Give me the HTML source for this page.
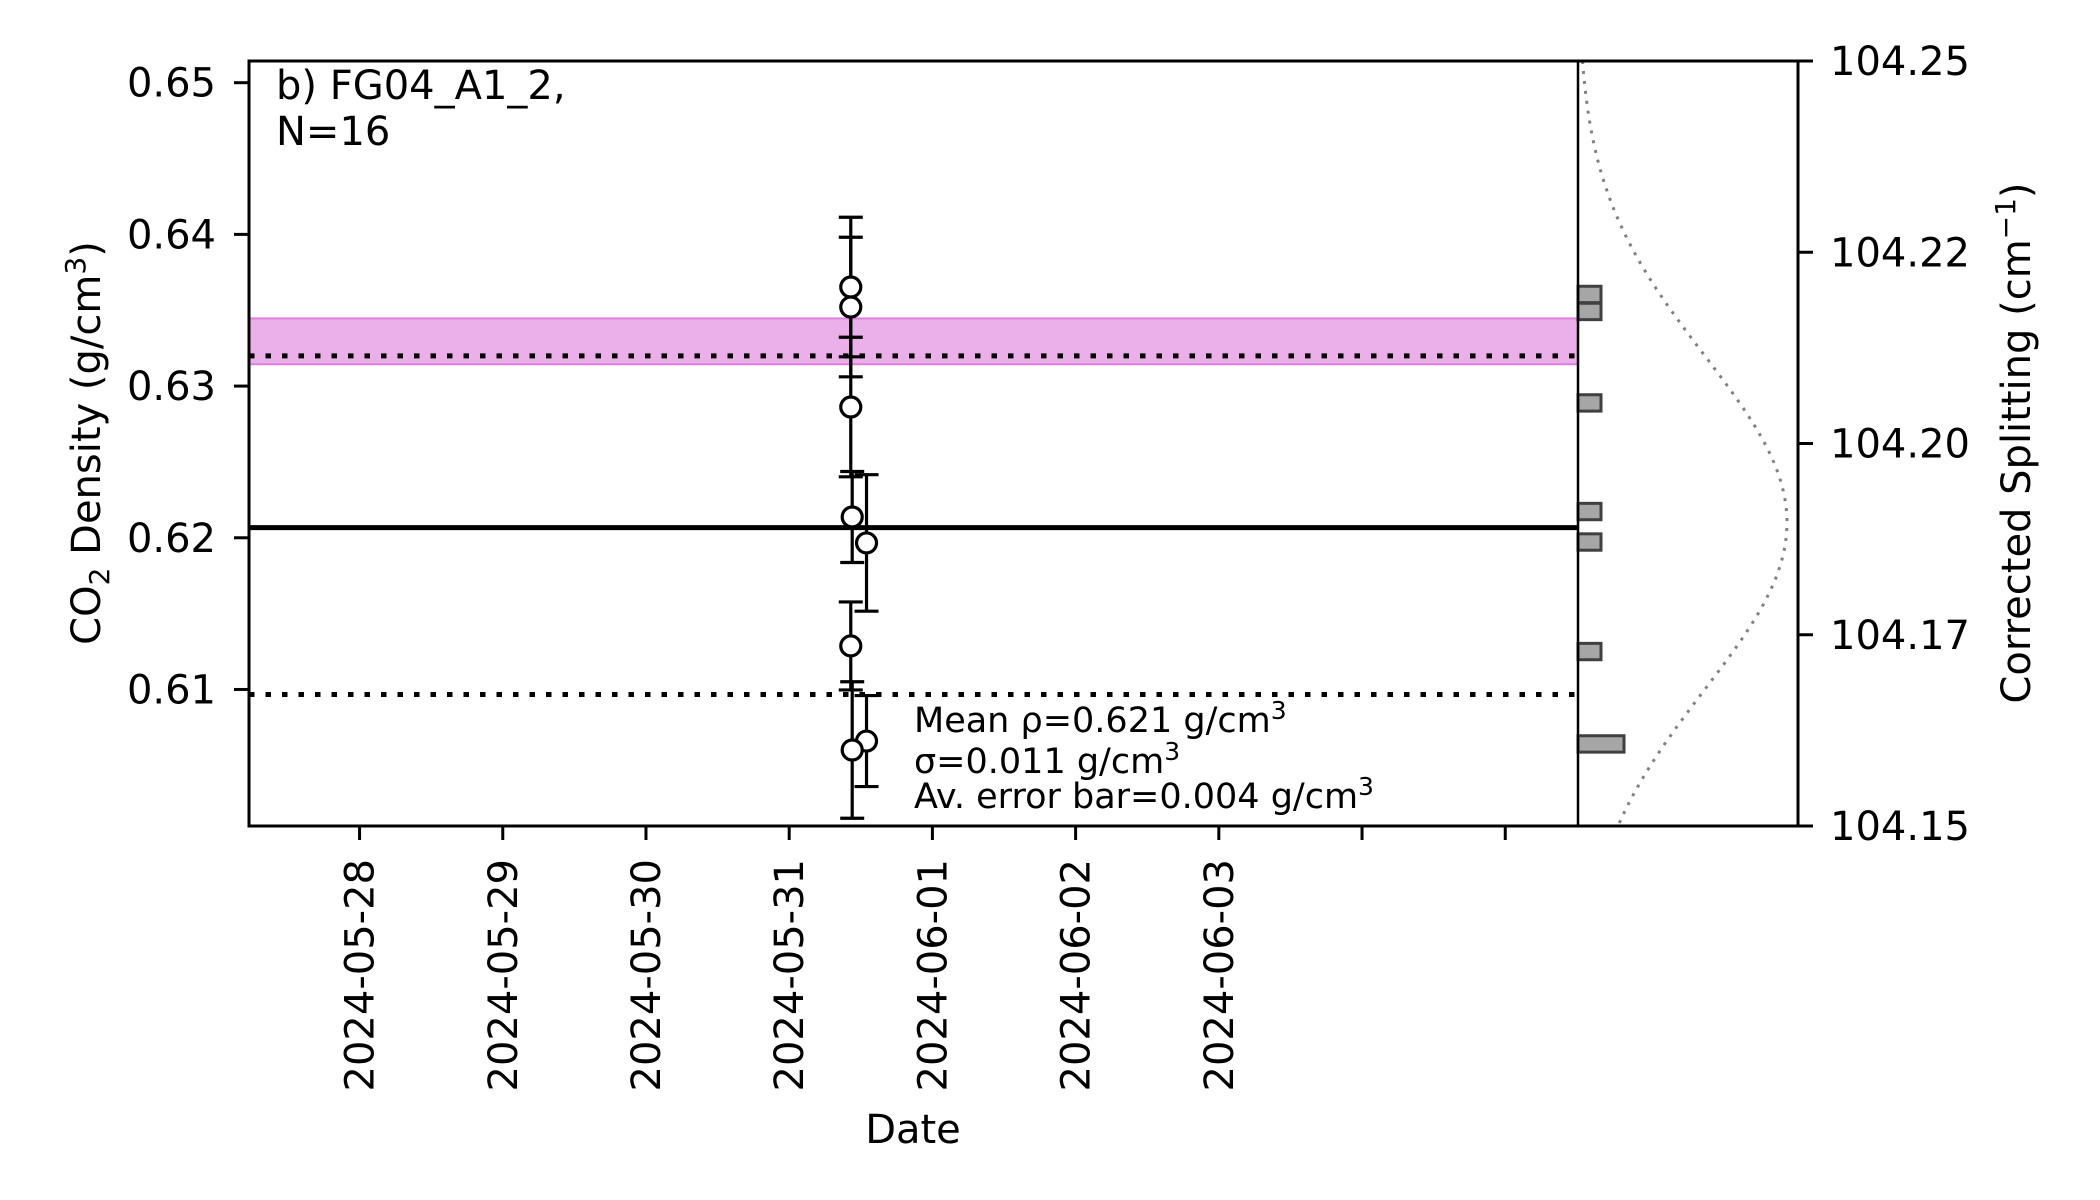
<!DOCTYPE html>
<html><head><meta charset="utf-8"><style>
html,body{margin:0;padding:0;background:#fff;}
svg{display:block;font-family:"DejaVu Sans","Liberation Sans",sans-serif;}
</style></head><body>
<svg id="chart" width="2100" height="1200" viewBox="0 0 2100 1200" xmlns="http://www.w3.org/2000/svg">
<rect width="2100" height="1200" fill="#fff"/>
<g id="plot"></g>
</svg>
<script>
// ---- data ----
const xTickLabels = ["2024-05-28","2024-05-29","2024-05-30","2024-05-31","2024-06-01","2024-06-02","2024-06-03","",""];
const xTickDays = [0,1,2,3,4,5,6,7,8];
const yTicks = [0.61,0.62,0.63,0.64,0.65];
const yTickLabels = ["0.61","0.62","0.63","0.64","0.65"];
const splitTicks = [104.15,104.175,104.2,104.225,104.25];
const splitTickLabels = ["104.15","104.17","104.20","104.22","104.25"];
const pointDays = [3.43,3.43,3.43,3.44,3.54,3.43,3.54,3.44];
const pointDensity = [0.63653,0.63521,0.62862,0.62137,0.61966,0.61287,0.60660,0.60601];
const pointError = [0.0046,0.0046,0.0046,0.0030,0.0045,0.0029,0.0030,0.0045];
const meanDensity = [0.62067];
const upperDotted = [0.63199];
const lowerDotted = [0.60967];
const bandRange = [0.63144,0.63446];
const histCenters = [0.63604,0.63492,0.62889,0.62173,0.61972,0.61250,0.60641];
const histCounts = [1,1,1,1,1,1,2];
const gaussMeanSigma = [0.621,0.011];

// ---- axes ----
const L=249,R=1578,T=61,B=826,PR=1798;
const xDom=[-0.772,8.508], yDom=[0.60100,0.65143], sDom=[104.15,104.25];
const X=d=>L+(d-xDom[0])/(xDom[1]-xDom[0])*(R-L);
const Y=v=>B-(v-yDom[0])/(yDom[1]-yDom[0])*(B-T);
const S=v=>B-(v-sDom[0])/(sDom[1]-sDom[0])*(B-T);
const HX=c=>R+c*23;
const NS="http://www.w3.org/2000/svg";
const g=document.getElementById('plot');
function mk(tag,attrs,parent){const e=document.createElementNS(NS,tag);for(const k in attrs)e.setAttribute(k,attrs[k]);(parent||g).appendChild(e);return e;}

let e=mk('rect',{x:L,y:Y(bandRange[1]),width:R-L,height:Y(bandRange[0])-Y(bandRange[1]),fill:'#ebb0ea',stroke:'#dd80dd','stroke-width':2});


e=mk('line',{x1:L,x2:R,y1:Y(upperDotted[0]),y2:Y(upperDotted[0]),stroke:'#000','stroke-width':5,'stroke-dasharray':'5.5 11'});


e=mk('line',{x1:L,x2:R,y1:Y(lowerDotted[0]),y2:Y(lowerDotted[0]),stroke:'#000','stroke-width':5,'stroke-dasharray':'5.5 11'});


e=mk('line',{x1:L,x2:R,y1:Y(meanDensity[0]),y2:Y(meanDensity[0]),stroke:'#000','stroke-width':5});



for(let i=0;i<pointDays.length;i++){
  const x=X(pointDays[i]),y0=Y(pointDensity[i]-pointError[i]),y1=Y(pointDensity[i]+pointError[i]);
  const eb=mk('g',{stroke:'#000','stroke-width':3.2});
  
  
  mk('line',{x1:x,x2:x,y1:y0,y2:y1},eb);
  mk('line',{x1:x-12,x2:x+12,y1:y0,y2:y0},eb);
  mk('line',{x1:x-12,x2:x+12,y1:y1,y2:y1},eb);
}
for(let i=0;i<pointDays.length;i++){
  const c=mk('circle',{cx:X(pointDays[i]),cy:Y(pointDensity[i]),r:10,fill:'#fff',stroke:'#000','stroke-width':3.2});
  
  
}

const binHalf=0.00054;
for(let i=0;i<histCenters.length;i++){
  const y1=Y(histCenters[i]+binHalf),y0=Y(histCenters[i]-binHalf);
  const r=mk('rect',{x:R,y:y1,width:HX(histCounts[i])-R,height:y0-y1,fill:'#a6a6a6',stroke:'#404040','stroke-width':3});
  
  
}
let pts=[];
for(let y=T;y<=B;y+=3){
  const v=yDom[0]+(B-y)/(B-T)*(yDom[1]-yDom[0]);
  const z=(v-gaussMeanSigma[0])/gaussMeanSigma[1];
  pts.push((R+209*Math.exp(-z*z/2)).toFixed(1)+','+y);
}
e=mk('polyline',{points:pts.join(' '),fill:'none',stroke:'#808080','stroke-width':3,'stroke-dasharray':'3 7'});



e=mk('rect',{x:L,y:T,width:PR-L,height:B-T,fill:'none',stroke:'#000','stroke-width':3});


e=mk('line',{x1:R,x2:R,y1:T,y2:B,stroke:'#000','stroke-width':2.5});



for(let i=0;i<yTicks.length;i++){
  const y=Y(yTicks[i]);
  mk('line',{x1:L-15,x2:L,y1:y,y2:y,stroke:'#000','stroke-width':3});
  const t=mk('text',{x:216,y:y+14,'text-anchor':'end','font-size':40});
  t.textContent=yTickLabels[i];
  
  
}
for(let i=0;i<splitTicks.length;i++){
  const y=S(splitTicks[i]);
  mk('line',{x1:PR,x2:PR+15,y1:y,y2:y,stroke:'#000','stroke-width':3});
  const t=mk('text',{x:1830,y:y+14,'text-anchor':'start','font-size':40});
  t.textContent=splitTickLabels[i];
  
  
}
for(let i=0;i<xTickDays.length;i++){
  const x=X(xTickDays[i]);
  mk('line',{x1:x,x2:x,y1:B,y2:B+14,stroke:'#000','stroke-width':3});
  if(xTickLabels[i]){
    const t=mk('text',{x:0,y:0,'text-anchor':'end','font-size':40,transform:`translate(${x+14},859) rotate(-90)`});
    t.textContent=xTickLabels[i];
    
    
  }
}
</script>
<div style="position:absolute;left:0;top:0;width:2100px;height:1200px;pointer-events:none">
<svg width="2100" height="1200" style="font-family:'DejaVu Sans','Liberation Sans',sans-serif">
<text x="276" y="99" font-size="40">b) FG04_A1_2,</text>
<text x="276" y="145" font-size="40">N=16</text>
<text x="913" y="1143" font-size="40" text-anchor="middle">Date</text>
<text transform="translate(100,443) rotate(-90)" font-size="40" text-anchor="middle">CO<tspan font-size="28" dy="9">2</tspan><tspan dy="-9"> Density (g/cm</tspan><tspan font-size="28" dy="-15">3</tspan><tspan dy="15">)</tspan></text>
<text transform="translate(2030,443) rotate(-90)" font-size="40" text-anchor="middle">Corrected Splitting (cm<tspan font-size="28" dy="-15">−1</tspan><tspan dy="15">)</tspan></text>
<g font-size="35">
<text x="914" y="732">Mean ρ=0.621 g/cm<tspan font-size="25" dy="-13">3</tspan></text>
<text x="914" y="773">σ=0.011 g/cm<tspan font-size="25" dy="-13">3</tspan></text>
<text x="914" y="808">Av. error bar=0.004 g/cm<tspan font-size="25" dy="-13">3</tspan></text>
</g>
</svg>
</div>
</body></html>
